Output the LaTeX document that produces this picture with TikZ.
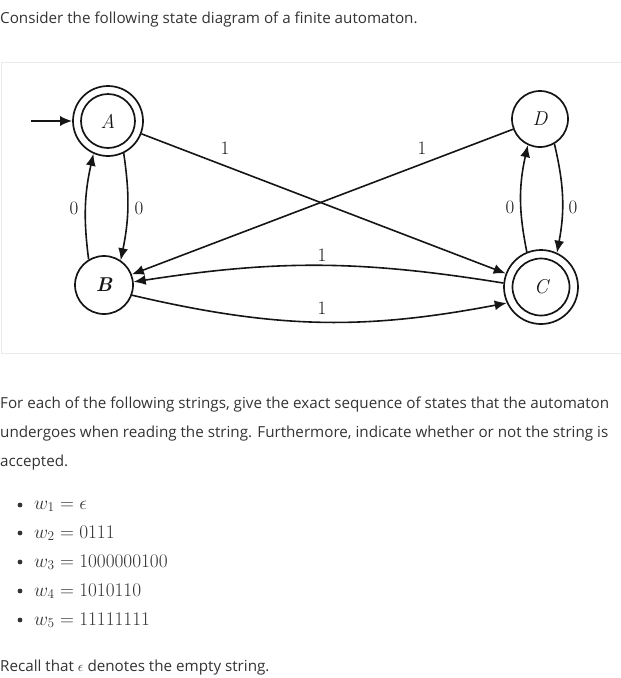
\documentclass[tikz,border=0pt]{standalone}
\usepackage{graphicx}
\usepackage{fontspec}
\newfontfamily\uifont{Open Sans}
\usetikzlibrary{arrows.meta}
\definecolor{txt}{HTML}{333333}
\definecolor{framegray}{HTML}{EBEBEB}
\definecolor{ink}{HTML}{151515}
\newcommand{\mathrow}[1]{\scalebox{0.93}{$#1$}}
\tikzset{
  statenode/.style={circle, draw=ink, line width=1.7pt, minimum size=#1, inner sep=0pt, text=ink, font=\fontsize{20}{20}\selectfont\itshape},
  edge/.style={draw=ink, line width=1.6pt, -{Latex[length=12pt,width=10pt]}},
  lbl/.style={font=\fontsize{19}{19}\selectfont, text=ink, inner sep=0pt},
  para/.style={anchor=base west, inner sep=0pt, font=\uifont\fontsize{15.2}{17}\selectfont, text=txt},
  mathline/.style={anchor=base west, inner sep=0pt, font=\fontsize{20.74}{22}\selectfont, text=txt},
}
\begin{document}
\begin{tikzpicture}[x=1pt,y=1pt]
\useasboundingbox (0,0) rectangle (621,-678);
% frame
\draw[framegray, line width=1pt] (621,-62.5) -- (1.5,-62.5) -- (1.5,-353.5) -- (621,-353.5);
% texts
\node[para] (t0) at (0,-23) {Consider the following state diagram of a finite automaton.};
\node[para] (p1) at (0,-408) {For each of the following strings, give the exact sequence of states that the automaton};
\node[para] (p2) at (0,-437) {undergoes when reading the string. Furthermore, indicate whether or not the string is};
\node[para] (p3) at (0,-466) {accepted.};
\node[para] (rc) at (0,-671) {Recall that $\epsilon$ denotes the empty string.};
% list
\foreach \yy in {505,533,562,591,620} \fill[txt] (20,-\yy) circle (2.4);
\node[mathline] (w1) at (34,-509) {\mathrow{w_1 = \epsilon}};
\node[mathline] (w2) at (34,-538) {\mathrow{w_2 = 0111}};
\node[mathline] (w3) at (34,-567) {\mathrow{w_3 = 1000000100}};
\node[mathline] (w4) at (34,-596) {\mathrow{w_4 = 1010110}};
\node[mathline] (w5) at (34,-625) {\mathrow{w_5 = 11111111}};
% states
\node[statenode=70pt] (A) at (108,-121) {A};
\draw[ink, line width=1.7pt] (A.center) circle (27);
\node[statenode=58pt] (B) at (104,-285) {\bfseries B};
\node[statenode=74pt] (C) at (541,-287) {C};
\draw[ink, line width=1.7pt] (C.center) circle (28.5);
\node[statenode=56pt] (D) at (540,-119) {D};
% edges
\coordinate (start) at (31,-121);
\draw[edge] (start) -- (A);
\draw[edge] (A.-64) to[bend left=10] (B.56);
\draw[edge] (B.121) to[bend left=10] (A.-114);
\draw[edge] (D.-60) to[bend left=12] (C.65);
\draw[edge] (C.112) to[bend left=12] (D.-115);
\draw[edge] (A) -- (C);
\draw[edge] (D) -- (B);
\draw[edge] (C.174) to[bend right=9] (B.6);
\draw[edge] (B.-20) to[bend right=12] (C.205);
% labels
\node[lbl] (l1) at (74,-208) {0};
\node[lbl] (l2) at (139,-208) {0};
\node[lbl] (l3) at (510,-207) {0};
\node[lbl] (l4) at (573,-207) {0};
\node[lbl] (l5) at (225,-148) {1};
\node[lbl] (l6) at (422,-148) {1};
\node[lbl] (l7) at (322,-255) {1};
\node[lbl] (l8) at (322,-308) {1};
\end{tikzpicture}
\end{document}
